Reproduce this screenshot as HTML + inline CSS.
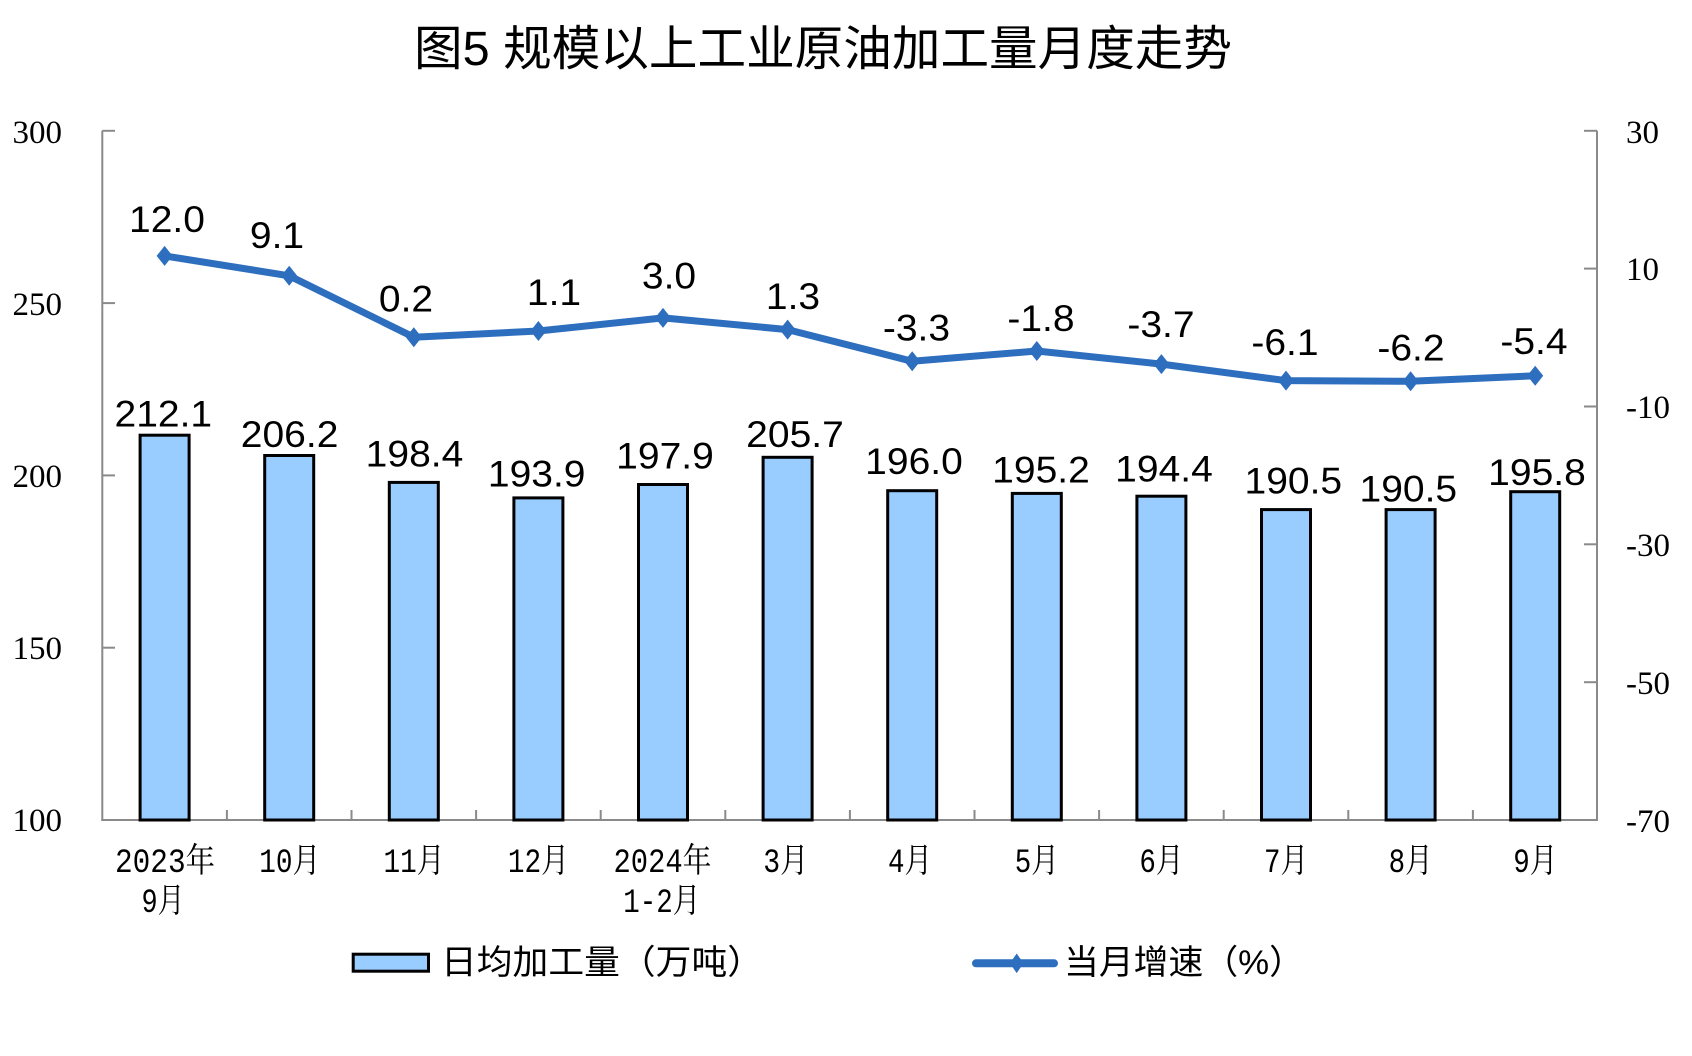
<!DOCTYPE html>
<html>
<head>
<meta charset="utf-8">
<style>
  html, body { margin: 0; padding: 0; background: #ffffff; }
  svg { display: block; }
  .ax { font-family: "Liberation Serif", "Noto Serif CJK SC", serif; font-size: 33px; fill: #000; }
  .dl { font-family: "Liberation Sans", sans-serif; font-size: 37px; fill: #000; }
  .cat { font-family: "Liberation Mono", "Noto Serif CJK SC", serif; font-size: 34px; fill: #000; }
  .lg { font-family: "Liberation Sans", "Noto Sans CJK SC", sans-serif; font-size: 34px; fill: #000; }
  .tt { font-family: "Liberation Sans", "Noto Sans CJK SC", sans-serif; font-size: 48px; fill: #000; }
</style>
</head>
<body>
<svg width="1692" height="1056" viewBox="0 0 1692 1056" xmlns="http://www.w3.org/2000/svg">
  <rect x="0" y="0" width="1692" height="1056" fill="#ffffff"/>

  <!-- Title -->
  <text class="tt" x="414" y="65" textLength="818" lengthAdjust="spacingAndGlyphs">图5 规模以上工业原油加工量月度走势</text>

  <!-- Axes -->
  <g stroke="#8a8a8a" stroke-width="2" fill="none">
    <line x1="102.3" y1="130.8" x2="102.3" y2="821"/>
    <line x1="1597" y1="130.8" x2="1597" y2="821"/>
    <line x1="101.3" y1="820" x2="1598" y2="820"/>
    <line x1="102.3" y1="130.8" x2="115" y2="130.8"/>
    <line x1="102.3" y1="303.1" x2="115" y2="303.1"/>
    <line x1="102.3" y1="475.4" x2="115" y2="475.4"/>
    <line x1="102.3" y1="647.7" x2="115" y2="647.7"/>
    <line x1="1584" y1="130.8" x2="1597" y2="130.8"/>
    <line x1="1584" y1="268.6" x2="1597" y2="268.6"/>
    <line x1="1584" y1="406.5" x2="1597" y2="406.5"/>
    <line x1="1584" y1="544.3" x2="1597" y2="544.3"/>
    <line x1="1584" y1="682.2" x2="1597" y2="682.2"/>
    <line x1="226.9" y1="810" x2="226.9" y2="820"/>
    <line x1="351.5" y1="810" x2="351.5" y2="820"/>
    <line x1="476.1" y1="810" x2="476.1" y2="820"/>
    <line x1="600.7" y1="810" x2="600.7" y2="820"/>
    <line x1="725.3" y1="810" x2="725.3" y2="820"/>
    <line x1="849.9" y1="810" x2="849.9" y2="820"/>
    <line x1="974.5" y1="810" x2="974.5" y2="820"/>
    <line x1="1099.1" y1="810" x2="1099.1" y2="820"/>
    <line x1="1223.7" y1="810" x2="1223.7" y2="820"/>
    <line x1="1348.3" y1="810" x2="1348.3" y2="820"/>
    <line x1="1472.9" y1="810" x2="1472.9" y2="820"/>
  </g>

  <!-- Left axis labels -->
  <g class="ax" text-anchor="end">
    <text x="62" y="143">300</text>
    <text x="62" y="315">250</text>
    <text x="62" y="487">200</text>
    <text x="62" y="659">150</text>
    <text x="62" y="831">100</text>
  </g>
  <!-- Right axis labels -->
  <g class="ax" text-anchor="start">
    <text x="1626" y="143">30</text>
    <text x="1626" y="280">10</text>
    <text x="1626" y="418">-10</text>
    <text x="1626" y="556">-30</text>
    <text x="1626" y="694">-50</text>
    <text x="1626" y="832">-70</text>
  </g>

  <!-- Bars -->
  <g fill="#99ccff" stroke="#000" stroke-width="3">
    <rect x="140.1" y="435.2" width="49" height="384.8"/>
    <rect x="264.7" y="455.5" width="49" height="364.5"/>
    <rect x="389.3" y="482.4" width="49" height="337.6"/>
    <rect x="513.9" y="497.9" width="49" height="322.1"/>
    <rect x="638.5" y="484.5" width="49" height="335.5"/>
    <rect x="763.1" y="457.3" width="49" height="362.7"/>
    <rect x="887.7" y="490.7" width="49" height="329.3"/>
    <rect x="1012.3" y="493.4" width="49" height="326.6"/>
    <rect x="1136.9" y="496.2" width="49" height="323.8"/>
    <rect x="1261.5" y="509.6" width="49" height="310.4"/>
    <rect x="1386.1" y="509.6" width="49" height="310.4"/>
    <rect x="1510.7" y="491.7" width="49" height="328.3"/>
  </g>

  <!-- Bar labels -->
  <g class="dl" text-anchor="middle">
    <text x="163.3" y="426.7" textLength="97.6" lengthAdjust="spacingAndGlyphs">212.1</text>
    <text x="289.6" y="447" textLength="97.6" lengthAdjust="spacingAndGlyphs">206.2</text>
    <text x="414.5" y="466.7" textLength="97.6" lengthAdjust="spacingAndGlyphs">198.4</text>
    <text x="536.7" y="486.7" textLength="97.6" lengthAdjust="spacingAndGlyphs">193.9</text>
    <text x="665" y="468.3" textLength="97.6" lengthAdjust="spacingAndGlyphs">197.9</text>
    <text x="795" y="447" textLength="97.6" lengthAdjust="spacingAndGlyphs">205.7</text>
    <text x="914" y="474" textLength="97.6" lengthAdjust="spacingAndGlyphs">196.0</text>
    <text x="1041" y="482.6" textLength="97.6" lengthAdjust="spacingAndGlyphs">195.2</text>
    <text x="1164" y="481.7" textLength="97.6" lengthAdjust="spacingAndGlyphs">194.4</text>
    <text x="1293.3" y="493.3" textLength="97.6" lengthAdjust="spacingAndGlyphs">190.5</text>
    <text x="1408.3" y="501.7" textLength="97.6" lengthAdjust="spacingAndGlyphs">190.5</text>
    <text x="1537" y="484.8" textLength="97.6" lengthAdjust="spacingAndGlyphs">195.8</text>
  </g>

  <!-- Line series -->
  <polyline fill="none" stroke="#2e6ebe" stroke-width="7" stroke-linejoin="round"
    points="164.6,255.9 289.2,275.8 413.8,337.2 538.4,331.0 663,317.9 787.6,329.6 912.2,361.3 1036.8,351.0 1161.4,364.1 1286,380.6 1410.6,381.3 1535.2,375.8"/>
  <g fill="#2e6ebe">
    <path d="M164.6,245.9 L172.6,255.9 L164.6,265.9 L156.6,255.9 Z"/>
    <path d="M289.2,265.8 L297.2,275.8 L289.2,285.8 L281.2,275.8 Z"/>
    <path d="M413.8,327.2 L421.8,337.2 L413.8,347.2 L405.8,337.2 Z"/>
    <path d="M538.4,321.0 L546.4,331.0 L538.4,341.0 L530.4,331.0 Z"/>
    <path d="M663,307.9 L671,317.9 L663,327.9 L655,317.9 Z"/>
    <path d="M787.6,319.6 L795.6,329.6 L787.6,339.6 L779.6,329.6 Z"/>
    <path d="M912.2,351.3 L920.2,361.3 L912.2,371.3 L904.2,361.3 Z"/>
    <path d="M1036.8,341.0 L1044.8,351.0 L1036.8,361.0 L1028.8,351.0 Z"/>
    <path d="M1161.4,354.1 L1169.4,364.1 L1161.4,374.1 L1153.4,364.1 Z"/>
    <path d="M1286,370.6 L1294,380.6 L1286,390.6 L1278,380.6 Z"/>
    <path d="M1410.6,371.3 L1418.6,381.3 L1410.6,391.3 L1402.6,381.3 Z"/>
    <path d="M1535.2,365.8 L1543.2,375.8 L1535.2,385.8 L1527.2,375.8 Z"/>
  </g>

  <!-- Line labels -->
  <g class="dl" text-anchor="middle">
    <text x="167" y="232" textLength="75.9" lengthAdjust="spacingAndGlyphs">12.0</text>
    <text x="277" y="248" textLength="54.2" lengthAdjust="spacingAndGlyphs">9.1</text>
    <text x="406" y="311.7" textLength="54.2" lengthAdjust="spacingAndGlyphs">0.2</text>
    <text x="554" y="305" textLength="54.2" lengthAdjust="spacingAndGlyphs">1.1</text>
    <text x="669" y="288.3" textLength="54.2" lengthAdjust="spacingAndGlyphs">3.0</text>
    <text x="793" y="309" textLength="54.2" lengthAdjust="spacingAndGlyphs">1.3</text>
    <text x="916.5" y="340.5" textLength="67.2" lengthAdjust="spacingAndGlyphs">-3.3</text>
    <text x="1041" y="331" textLength="67.2" lengthAdjust="spacingAndGlyphs">-1.8</text>
    <text x="1161" y="337" textLength="67.2" lengthAdjust="spacingAndGlyphs">-3.7</text>
    <text x="1285" y="355" textLength="67.2" lengthAdjust="spacingAndGlyphs">-6.1</text>
    <text x="1411" y="360.7" textLength="67.2" lengthAdjust="spacingAndGlyphs">-6.2</text>
    <text x="1534" y="354" textLength="67.2" lengthAdjust="spacingAndGlyphs">-5.4</text>
  </g>

  <!-- Category labels -->
  <g class="cat" text-anchor="middle">
    <text x="165" y="872" textLength="100" lengthAdjust="spacingAndGlyphs">2023年</text>
    <text x="163" y="912" textLength="43" lengthAdjust="spacingAndGlyphs">9月</text>
    <text x="289.7" y="872" textLength="61" lengthAdjust="spacingAndGlyphs">10月</text>
    <text x="414" y="872" textLength="61" lengthAdjust="spacingAndGlyphs">11月</text>
    <text x="538.4" y="872" textLength="61" lengthAdjust="spacingAndGlyphs">12月</text>
    <text x="662.5" y="872" textLength="98" lengthAdjust="spacingAndGlyphs">2024年</text>
    <text x="661.7" y="912" textLength="77" lengthAdjust="spacingAndGlyphs">1-2月</text>
    <text x="785.8" y="872" textLength="45" lengthAdjust="spacingAndGlyphs">3月</text>
    <text x="910" y="872" textLength="44" lengthAdjust="spacingAndGlyphs">4月</text>
    <text x="1036.8" y="872" textLength="44" lengthAdjust="spacingAndGlyphs">5月</text>
    <text x="1161.4" y="872" textLength="44" lengthAdjust="spacingAndGlyphs">6月</text>
    <text x="1286" y="872" textLength="44" lengthAdjust="spacingAndGlyphs">7月</text>
    <text x="1410.6" y="872" textLength="44" lengthAdjust="spacingAndGlyphs">8月</text>
    <text x="1535.2" y="872" textLength="44" lengthAdjust="spacingAndGlyphs">9月</text>
  </g>

  <!-- Legend -->
  <rect x="353.2" y="954.2" width="75.3" height="17" fill="#99ccff" stroke="#000" stroke-width="3"/>
  <text class="lg" x="441" y="974" textLength="322" lengthAdjust="spacingAndGlyphs">日均加工量（万吨）</text>

  <line x1="976" y1="963.3" x2="1054" y2="963.3" stroke="#2e6ebe" stroke-width="8" stroke-linecap="round"/>
  <path d="M1016.7,953.5 L1023.5,963.3 L1016.7,973.1 L1009.9,963.3 Z" fill="#2e6ebe"/>
  <text class="lg" x="1064" y="974" textLength="240" lengthAdjust="spacingAndGlyphs">当月增速（%）</text>
</svg>
</body>
</html>
